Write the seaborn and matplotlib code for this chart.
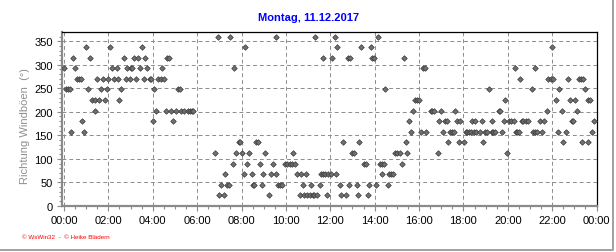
import matplotlib
matplotlib.use("Agg")
import matplotlib.pyplot as plt
from matplotlib.lines import Line2D
from matplotlib.ticker import MultipleLocator, FuncFormatter
import seaborn as sns
import pandas as pd

# time of each reading in minutes after midnight, wind-gust direction in degrees
minutes = [
    0, 6, 12, 17, 20, 25, 31, 36, 41, 47, 50, 55, 60, 66, 71, 77, 83, 85, 90, 96,
    100, 105, 112, 115, 119, 125, 131, 135, 142, 147, 150, 155, 161, 167, 170, 178, 181, 185, 190, 196,
    200, 206, 212, 215, 220, 225, 232, 235, 241, 244, 250, 255, 261, 266, 271, 276, 279, 284, 289, 296,
    302, 307, 313, 316, 324, 336, 341, 346, 350,
    407, 416, 420, 425, 432, 436, 441, 445, 450, 456, 461, 465, 472, 475, 480, 486, 490, 496,
    501, 507, 510, 515, 520, 525, 531, 535, 538, 544, 555, 559, 565, 572, 574, 578, 583, 590, 597,
    604, 611, 617, 620, 625, 631, 637, 640, 645, 649, 655, 658, 664, 669, 672, 676, 680, 685, 691, 696,
    700, 701, 707, 710, 715, 721, 726, 732, 735, 739, 745, 750, 755, 762, 768, 770, 773, 780, 784, 791, 796, 798,
    804, 811, 816, 821, 825, 830, 833, 838, 844, 850, 854, 860, 861, 864, 869, 875, 880, 885, 890, 896,
    900, 909, 915, 920, 926, 928, 934, 939, 945, 949, 955, 961, 964, 970, 975, 980, 991, 996,
    1000, 1010, 1014, 1020, 1026, 1031, 1036, 1038, 1045, 1050, 1055, 1058, 1063, 1067, 1070, 1081, 1086, 1090, 1095,
    1100, 1103, 1108, 1112, 1115, 1124, 1129, 1133, 1138, 1145, 1149, 1156, 1158, 1160, 1166, 1175, 1180, 1184, 1190, 1193, 1199,
    1204, 1210, 1216, 1220, 1221, 1226, 1230, 1234, 1238, 1242, 1248, 1255, 1265, 1267, 1273, 1274, 1280, 1287, 1292, 1298,
    1305, 1310, 1316, 1320, 1321, 1329, 1335, 1339, 1346, 1350, 1357, 1364, 1368, 1373, 1377, 1383, 1388, 1392, 1398, 1400,
    1404, 1409, 1416, 1418, 1422, 1429, 1433,
]
direction = [
    292.5, 247.5, 247.5, 247.5, 157.5, 315, 292.5, 270, 270, 270, 180, 157.5, 337.5, 247.5, 315, 225, 225, 202.5, 270, 225,
    247.5, 270, 225, 247.5, 270, 337.5, 292.5, 270, 292.5, 270, 225, 247.5, 315, 270, 292.5, 270, 292.5, 292.5, 315, 270,
    315, 292.5, 337.5, 270, 315, 292.5, 270, 270, 180, 247.5, 202.5, 270, 270, 292.5, 270, 202.5, 315, 315, 202.5, 180,
    202.5, 247.5, 247.5, 202.5, 202.5, 202.5, 202.5, 202.5, 202.5,
    112.5, 360, 22.5, 45, 22.5, 67.5, 45, 45, 360, 90, 292.5, 112.5, 135, 135, 112.5, 67.5, 337.5, 90,
    112.5, 67.5, 45, 45, 135, 135, 90, 45, 67.5, 112.5, 22.5, 67.5, 90, 67.5, 360, 45, 45, 45, 90,
    90, 90, 90, 112.5, 90, 67.5, 22.5, 67.5, 45, 22.5, 67.5, 22.5, 22.5, 45, 22.5, 22.5, 360, 22.5, 45, 67.5,
    315, 67.5, 67.5, 22.5, 67.5, 67.5, 315, 360, 67.5, 337.5, 45, 22.5, 135, 22.5, 315, 45, 315, 112.5, 112.5, 45, 22.5, 135,
    337.5, 90, 90, 22.5, 45, 337.5, 315, 315, 45, 360, 90, 90, 67.5, 90, 247.5, 45, 67.5, 67.5, 67.5, 112.5,
    112.5, 112.5, 90, 315, 135, 112.5, 180, 157.5, 202.5, 225, 225, 225, 157.5, 292.5, 292.5, 157.5, 202.5, 202.5,
    202.5, 112.5, 180, 202.5, 157.5, 180, 180, 135, 157.5, 157.5, 157.5, 202.5, 180, 135, 180, 135, 157.5, 157.5, 157.5,
    157.5, 180, 157.5, 180, 157.5, 157.5, 180, 135, 157.5, 157.5, 247.5, 157.5, 180, 157.5, 157.5, 202.5, 202.5, 157.5, 180, 225, 112.5,
    180, 180, 180, 292.5, 157.5, 157.5, 157.5, 270, 180, 180, 180, 180, 247.5, 157.5, 292.5, 157.5, 157.5, 180, 157.5, 180,
    202.5, 270, 270, 337.5, 270, 225, 157.5, 247.5, 202.5, 135, 157.5, 270, 225, 180, 180, 225, 202.5, 270, 270, 135,
    270, 247.5, 225, 135, 225, 157.5, 180,
]

title = "Montag, 11.12.2017"
y_label = "Richtung Windböen  (°)"
footer = "© WsWin32  -  © Heike Blädern"
y_ticks = [0, 50, 100, 150, 200, 250, 300, 350]

df = pd.DataFrame({"minute": minutes, "dir": direction})

sns.set_theme(style="white")
plt.rcParams["font.family"] = ["Liberation Sans", "DejaVu Sans"]

W, H = 616, 253
fig = plt.figure(figsize=(W / 100, H / 100), dpi=100)
fig.patch.set_facecolor("white")
ax = fig.add_axes([61.7 / W, 1 - 207.3 / H, (597.3 - 61.7) / W, (207.3 - 33.3) / H])
ax.set_facecolor("white")

sns.scatterplot(data=df, x="minute", y="dir", ax=ax, marker="D", s=8,
                color="#707070", edgecolor="#3a3a3a", linewidth=0.5, zorder=3, legend=False)

ax.set_xlim(-6.2, 1442)
ax.set_ylim(-1.0, 369)
ax.xaxis.set_major_locator(MultipleLocator(120))
ax.xaxis.set_minor_locator(MultipleLocator(30))
ax.set_yticks(y_ticks)
ax.yaxis.set_minor_locator(MultipleLocator(10))
ax.xaxis.set_major_formatter(FuncFormatter(lambda v, p: "%02d:%02d" % ((int(round(v)) // 60) % 24, int(round(v)) % 60)))

ax.grid(True, which="major", color="#8c8c8c", linestyle=(0, (4, 3)), linewidth=0.7)
ax.set_axisbelow(True)

for s in ["left", "bottom"]:
    ax.spines[s].set_color("#8a8a8a")
    ax.spines[s].set_linewidth(1.6)
for s in ["top", "right"]:
    ax.spines[s].set_color("black")
    ax.spines[s].set_linewidth(0.9)

ax.tick_params(axis="both", which="major", direction="out", length=3.5, width=0.8,
               color="#8a8a8a", labelsize=8, labelcolor="black", pad=3)
ax.tick_params(axis="both", which="minor", direction="out", length=2.2, width=0.8, color="#8a8a8a")
ax.tick_params(axis="x", which="both", bottom=True)
ax.tick_params(axis="y", which="both", left=True)
ax.set_xlabel("")
ax.set_ylabel("")

fig.text(308.5 / W, 1 - 18 / H, title, color="#0000ff", fontsize=8, fontweight="bold",
         ha="center", va="center")
fig.text(25 / W, 1 - 126 / H, y_label, color="#8f8f8f", fontsize=8, rotation=90,
         ha="center", va="center")
fig.text(22 / W, 1 - 238 / H, footer, color="#ff0000", fontsize=4.5, ha="left", va="center")

fig.add_artist(Line2D([612.5 / W, 612.5 / W], [1 - 250 / H, 1], transform=fig.transFigure,
                      color="#a0a0a0", linewidth=1.4))
fig.add_artist(Line2D([0, 613 / W], [1 - 250.5 / H, 1 - 250.5 / H], transform=fig.transFigure,
                      color="#a0a0a0", linewidth=1.4))

fig.savefig("out.png", dpi=100, facecolor="white")
